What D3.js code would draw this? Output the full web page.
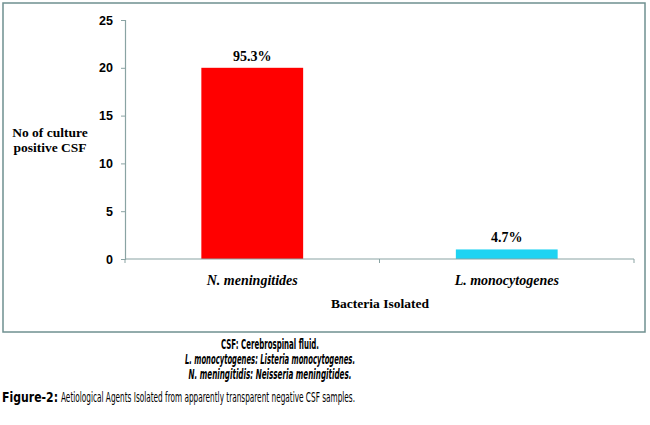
<!DOCTYPE html>
<html>
<head>
<meta charset="utf-8">
<script src="https://cdn.jsdelivr.net/npm/d3@7"></script>
<style>
  html, body { margin: 0; padding: 0; background: #fff; }
  svg { display: block; }
</style>
</head>
<body>
<svg id="chart" width="650" height="425"></svg>
<script>
const categories = ["N. meningitides", "L. monocytogenes"];
const counts = [20, 1];
const percentLabels = ["95.3%", "4.7%"];
const yTicks = [0, 5, 10, 15, 20, 25];
const barColors = ["#ff0000", "#1fd3f2"];
const captionLines = [
  {text: "CSF: Cerebrospinal fluid.", italic: false},
  {text: "L. monocytogenes: Listeria monocytogenes.", italic: true},
  {text: "N. meningitidis: Neisseria meningitides.", italic: true}
];
const figureLabel = "Figure-2:";
const figureText = "Aetiological Agents Isolated from apparently transparent negative CSF samples.";

const svg = d3.select("#chart");
const axisColor = "#8aa3a3";
const serif = "'Liberation Serif', 'Times New Roman', serif";
const sans = "'Liberation Sans', Arial, sans-serif";
const narrow = "'DejaVu Sans Condensed', 'DejaVu Sans', sans-serif";

// frame
svg.append("rect").attr("x", 3).attr("y", 3).attr("width", 642).attr("height", 329)
  .attr("fill", "none").attr("stroke", "#6f9090").attr("stroke-width", 1.5);

const x0 = 125, x1 = 634, yBottom = 259, yTop = 20;
const x = d3.scaleBand().domain(categories).range([x0, x1]).paddingInner(0.6).paddingOuter(0.3);
const y = d3.scaleLinear().domain([0, 25]).range([yBottom, yTop]);

// y axis
const yAxis = svg.append("g").attr("transform", `translate(${x0},0)`)
  .call(d3.axisLeft(y).tickValues(yTicks).tickSize(4).tickPadding(8));
yAxis.select(".domain").attr("stroke", axisColor).attr("stroke-width", 1.2);
yAxis.selectAll(".tick line").attr("stroke", axisColor);
yAxis.selectAll(".tick text").attr("font-family", sans).attr("font-weight", "bold")
  .attr("font-size", 12.5).attr("fill", "#000");

// bars
svg.append("g").selectAll("rect").data(categories).join("rect")
  .attr("x", d => x(d))
  .attr("y", (d, i) => y(counts[i]))
  .attr("width", x.bandwidth())
  .attr("height", (d, i) => y(0) - y(counts[i]))
  .attr("fill", (d, i) => barColors[i]);

// x axis
const xAxisG = svg.append("g").attr("transform", `translate(0,${yBottom})`);
xAxisG.append("line").attr("x1", x0).attr("x2", x1).attr("y1", 0).attr("y2", 0)
  .attr("stroke", axisColor).attr("stroke-width", 1.2);
const bounds = d3.range(categories.length + 1).map(i => x0 + i * (x1 - x0) / categories.length);
xAxisG.selectAll("line.tk").data(bounds).join("line").attr("class", "tk")
  .attr("x1", d => d).attr("x2", d => d).attr("y1", 0).attr("y2", 4)
  .attr("stroke", axisColor);

// category labels
svg.append("g").selectAll("text").data(categories).join("text")
  .attr("x", d => x(d) + x.bandwidth() / 2)
  .attr("y", 285)
  .attr("text-anchor", "middle")
  .attr("font-family", serif).attr("font-style", "italic").attr("font-weight", "bold")
  .attr("font-size", 14)
  .text(d => d);

// value labels
svg.append("g").selectAll("text").data(categories).join("text")
  .attr("x", d => x(d) + x.bandwidth() / 2)
  .attr("y", (d, i) => y(counts[i]) - 7)
  .attr("text-anchor", "middle")
  .attr("font-family", serif).attr("font-weight", "bold")
  .attr("font-size", 14)
  .text((d, i) => percentLabels[i]);

// axis titles
svg.append("text").attr("x", 380).attr("y", 308).attr("text-anchor", "middle")
  .attr("font-family", serif).attr("font-weight", "bold").attr("font-size", 13.5)
  .text("Bacteria Isolated");
const yl = svg.append("text").attr("text-anchor", "middle")
  .attr("font-family", serif).attr("font-weight", "bold").attr("font-size", 13.5);
yl.append("tspan").attr("x", 50).attr("y", 137).text("No of culture");
yl.append("tspan").attr("x", 50).attr("y", 152).text("positive CSF");

// caption notes (condensed look via fitted text length)
const captionWidths = [98, 170, 163];
svg.append("g").selectAll("text").data(captionLines).join("text")
  .attr("x", 270)
  .attr("y", (d, i) => 349 + i * 15)
  .attr("text-anchor", "middle")
  .attr("font-family", narrow).attr("font-weight", "bold")
  .attr("font-style", d => d.italic ? "italic" : "normal")
  .attr("font-size", 13.5)
  .attr("textLength", (d, i) => captionWidths[i])
  .attr("lengthAdjust", "spacingAndGlyphs")
  .text(d => d.text);

svg.append("text").attr("x", 2).attr("y", 402)
  .attr("font-family", narrow).attr("font-weight", "bold").attr("font-size", 13.5)
  .attr("textLength", 56).attr("lengthAdjust", "spacingAndGlyphs")
  .text(figureLabel);
svg.append("text").attr("x", 61).attr("y", 402)
  .attr("font-family", narrow).attr("font-size", 13.5)
  .attr("textLength", 294).attr("lengthAdjust", "spacingAndGlyphs")
  .text(figureText);
</script>
</body>
</html>
